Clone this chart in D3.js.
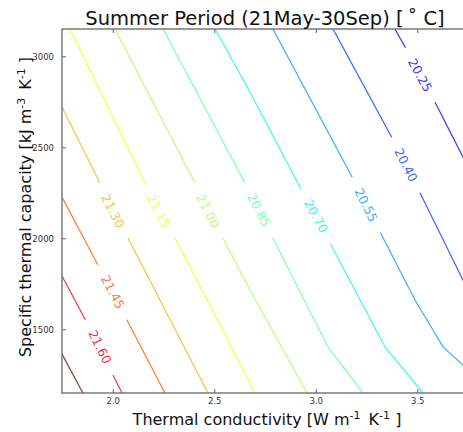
<!DOCTYPE html>
<html><head><meta charset="utf-8">
<script src="https://cdn.jsdelivr.net/npm/d3@7/dist/d3.min.js"></script>
<style>
body{margin:0;background:#fff}
svg{display:block}
text{font-family:"DejaVu Sans",sans-serif}
</style>
</head><body>
<svg id="chart" width="463" height="432"></svg>
<script>
// ---- data ----
const xDomain = [1.75, 3.75];          // thermal conductivity
const yDomain = [1150, 3150];          // specific thermal capacity
const xTicks = [2.0, 2.5, 3.0, 3.5];
const yTicks = [1500, 2000, 2500, 3000];
const colorDomain = [20.10, 21.75];

const levels = [21.75, 21.60, 21.45, 21.30, 21.15, 21.00, 20.85, 20.70, 20.55, 20.40, 20.25];

// contour polylines [conductivity, capacity], one per level
const c2175 = [[1.75,1364],[1.853,1150]];
const c2160 = [[1.75,1793],[1.863,1557],[2.001,1249],[2.046,1150]];
const c2145 = [[1.75,2227],[1.927,1853],[2.070,1551],[2.257,1150]];
const c2130 = [[1.75,2721],[1.937,2304],[2.075,2002],[2.469,1150]];
const c2115 = [[1.789,3150],[2.159,2304],[2.307,2002],[2.701,1150]];
const c2100 = [[2.011,3150],[2.405,2304],[2.543,2002],[2.676,1716],[2.957,1150]];
const c2085 = [[2.248,3150],[2.651,2304],[2.789,2002],[3.060,1403],[3.233,1150]];
const c2070 = [[2.504,3150],[2.676,2804],[2.922,2282],[3.070,1974],[3.341,1403],[3.528,1150]];
const c2055 = [[2.789,3150],[3.179,2337],[3.317,2035],[3.489,1661],[3.627,1403],[3.725,1304],[3.75,1282]];
const c2040 = [[3.085,3150],[3.376,2551],[3.514,2249],[3.725,1771],[3.75,1716]];
const c2025 = [[3.390,3150],[3.440,3051],[3.587,2749],[3.725,2447],[3.75,2397]];
const contourLines = [c2175, c2160, c2145, c2130, c2115, c2100, c2085, c2070, c2055, c2040, c2025];

// inline labels
const labelLevels = [21.60, 21.45, 21.30, 21.15, 21.00, 20.85, 20.70, 20.55, 20.40, 20.25];
const labelK = [1.937, 2.001, 2.001, 2.228, 2.469, 2.720, 3.001, 3.248, 3.445, 3.514];
const labelC = [1403, 1705, 2150, 2150, 2150, 2155, 2122, 2183, 2403, 2897];

// ---- drawing ----
const svg = d3.select("#chart");
const L = 62, T = 29, W = 406, H = 364;
const x = d3.scaleLinear().domain(xDomain).range([L, L + W]);
const y = d3.scaleLinear().domain(yDomain).range([T + H, T]);

function jet(t) {
  const seg = (pts) => {
    for (let i = 1; i < pts.length; i++) {
      if (t <= pts[i][0]) {
        const [x0, v0] = pts[i-1], [x1, v1] = pts[i];
        return v0 + (v1 - v0) * (t - x0) / (x1 - x0);
      }
    }
    return pts[pts.length-1][1];
  };
  const r = seg([[0,0],[0.35,0],[0.66,1],[0.89,1],[1,0.5]]);
  const g = seg([[0,0],[0.125,0],[0.375,1],[0.64,1],[0.91,0],[1,0]]);
  const b = seg([[0,0.5],[0.11,1],[0.34,1],[0.65,0],[1,0]]);
  return d3.rgb(r*255, g*255, b*255).formatHex();
}
const cnorm = d3.scaleLinear().domain(colorDomain).range([0,1]).clamp(true);
const color = v => jet(cnorm(v));

svg.append("defs").append("clipPath").attr("id","plotclip")
  .append("rect").attr("x",L).attr("y",T).attr("width",W).attr("height",H);

const line = d3.line().x(d => x(d[0])).y(d => y(d[1]));
const g = svg.append("g").attr("clip-path","url(#plotclip)");
g.selectAll("path.contour").data(contourLines).join("path")
  .attr("class","contour")
  .attr("d", line)
  .attr("fill","none")
  .attr("stroke",(d,i) => color(levels[i]))
  .attr("stroke-opacity",0.75)
  .attr("stroke-width",1.3);

// labels
labelLevels.forEach((lev, i) => {
  const pts = contourLines[levels.indexOf(lev)].map(p => [x(p[0]), y(p[1])]);
  const px = x(labelK[i]), py = y(labelC[i]);
  let best = Infinity, ang = 60;
  for (let j = 1; j < pts.length; j++) {
    const [x1,y1] = pts[j-1], [x2,y2] = pts[j];
    const dx = x2-x1, dy = y2-y1;
    let t = ((px-x1)*dx + (py-y1)*dy)/(dx*dx+dy*dy);
    t = Math.max(0, Math.min(1, t));
    const d = Math.hypot(px-(x1+t*dx), py-(y1+t*dy));
    if (d < best) { best = d; ang = Math.atan2(dy, dx)*180/Math.PI; }
  }
  const lg = g.append("g").attr("transform",`translate(${px},${py}) rotate(${ang})`);
  lg.append("rect").attr("x",-31).attr("y",-4).attr("width",62).attr("height",8).attr("fill","#fff");
  lg.append("text").attr("text-anchor","middle").attr("dy","0.36em")
    .attr("font-size",12.5).attr("fill",color(lev)).attr("fill-opacity",0.8).text(lev.toFixed(2));
});

// axes
const axisColor = "#666";
const ax = svg.append("g").attr("transform",`translate(0,${T+H})`)
  .call(d3.axisBottom(x).tickValues(xTicks).tickSize(-4).tickPadding(5).tickFormat(d3.format(".1f")));
const at = svg.append("g").attr("transform",`translate(0,${T})`)
  .call(d3.axisTop(x).tickValues(xTicks).tickSize(-4).tickFormat(""));
const ay = svg.append("g").attr("transform",`translate(${L},0)`)
  .call(d3.axisLeft(y).tickValues(yTicks).tickSize(-4).tickPadding(8).tickFormat(d3.format("d")));
[ax, at, ay].forEach(a => {
  a.select(".domain").remove();
  a.selectAll("line").attr("stroke",axisColor).attr("stroke-width",1);
  a.selectAll("text").attr("font-size",8.5).attr("fill","#333").attr("font-family","DejaVu Sans");
});
svg.append("rect").attr("x",L).attr("y",T).attr("width",W).attr("height",H)
  .attr("fill","none").attr("stroke",axisColor).attr("stroke-width",1.3);

// title
svg.append("text").attr("x", L + W/2).attr("y", 25).attr("text-anchor","middle")
  .attr("font-size",19.5).attr("fill","#111").text("Summer Period (21May-30Sep) [\u2009˚ C]");

// x label
const xl = svg.append("text").attr("x", L + W/2 + 2).attr("y", 425).attr("text-anchor","middle")
  .attr("font-size",16).attr("fill","#111");
xl.append("tspan").text("Thermal conductivity [W m");
xl.append("tspan").attr("font-size",11).attr("dy",-6).text("-1");
xl.append("tspan").attr("dy",6).text("\u2002K");
xl.append("tspan").attr("font-size",11).attr("dy",-6).text("-1");
xl.append("tspan").attr("dy",6).text(" ]");

// y label
const yl = svg.append("text").attr("transform",`translate(31,${T + H/2 - 4}) rotate(-90)`)
  .attr("text-anchor","middle").attr("font-size",16).attr("fill","#111");
yl.append("tspan").text("Specific thermal capacity [kJ m");
yl.append("tspan").attr("font-size",11).attr("dy",-6).text("-3");
yl.append("tspan").attr("dy",6).text("\u2002K");
yl.append("tspan").attr("font-size",11).attr("dy",-6).text("-1");
yl.append("tspan").attr("dy",6).text(" ]");
</script>
</body></html>
